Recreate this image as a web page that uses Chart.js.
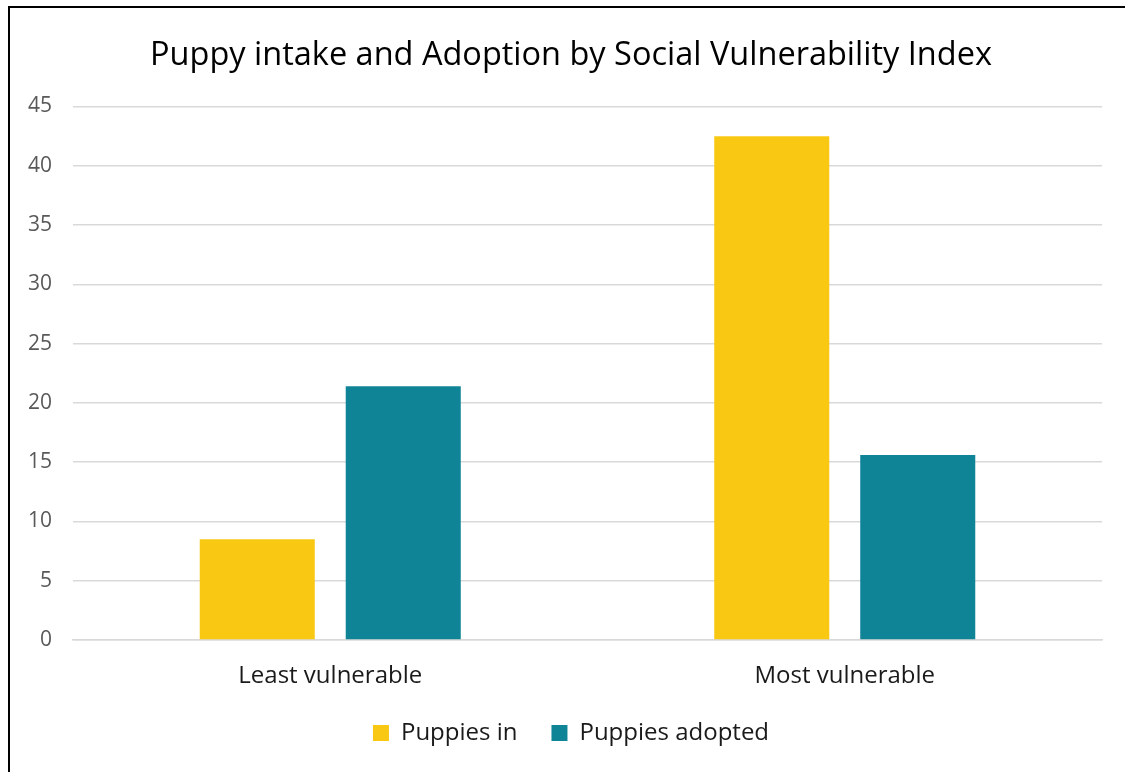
<!DOCTYPE html>
<html>
<head>
<meta charset="utf-8">
<script src="https://cdn.jsdelivr.net/npm/chart.js@4/dist/chart.umd.min.js"></script>
<style>
  html, body { margin: 0; padding: 0; background: #fff; }
  #wrap { position: relative; width: 1125px; height: 772px; }
</style>
</head>
<body>
<div id="wrap"><canvas id="c" width="1125" height="772"></canvas></div>
<script>
// Chart data
const categories = ['Least vulnerable', 'Most vulnerable'];
const puppiesIn = [8.5, 42.5];
const puppiesAdopted = [21.4, 15.6];
const yTickValues = [0, 5, 10, 15, 20, 25, 30, 35, 40, 45];

const FONT = "'Open Sans', 'Noto Sans', sans-serif";

// White page with a dark frame on the left and top edges
const framePlugin = {
  id: 'frame',
  beforeDraw(chart) {
    const ctx = chart.ctx;
    ctx.save();
    ctx.fillStyle = '#ffffff';
    ctx.fillRect(0, 0, chart.width, chart.height);
    ctx.strokeStyle = '#000000';
    ctx.lineWidth = 2;
    ctx.beginPath();
    ctx.moveTo(9, chart.height + 2);
    ctx.lineTo(9, 7);
    ctx.lineTo(chart.width + 2, 7);
    ctx.stroke();
    ctx.restore();
  }
};

new Chart(document.getElementById('c'), {
  type: 'bar',
  data: {
    labels: categories,
    datasets: [
      { label: 'Puppies in', data: puppiesIn, backgroundColor: '#F9C813', borderWidth: 0 },
      { label: 'Puppies adopted', data: puppiesAdopted, backgroundColor: '#108497', borderWidth: 0 }
    ]
  },
  options: {
    responsive: false,
    animation: false,
    devicePixelRatio: 1,
    categoryPercentage: 0.5675,
    barPercentage: 0.788,
    // the frame is slightly wider than the page, so the title centres a little left
    layout: { padding: { left: 0, right: -17, top: 0, bottom: 17 } },
    scales: {
      x: {
        afterFit(scale) { scale.height = 47; },
        grid: { display: false, drawTicks: false },
        border: { display: true, color: '#D9D9D9', width: 1.5 },
        ticks: { color: '#1a1a1a', font: { family: FONT, size: 24 }, padding: 22 }
      },
      y: {
        min: 0,
        max: 45,
        afterBuildTicks(scale) { scale.ticks = yTickValues.map(v => ({ value: v })); },
        afterFit(scale) { scale.width = 73; },
        grid: { color: '#D9D9D9', lineWidth: 1.5, drawTicks: false },
        border: { display: false },
        ticks: { color: '#595959', font: { family: FONT, size: 21 }, padding: 21 }
      },
      // empty right-hand margin of the plot
      yRight: {
        type: 'linear',
        position: 'right',
        afterFit(scale) { scale.width = 40; },
        grid: { display: false, drawTicks: false },
        border: { display: false },
        ticks: { display: false }
      }
    },
    plugins: {
      title: {
        display: true,
        text: 'Puppy intake and Adoption by Social Vulnerability Index',
        color: '#000000',
        font: { family: FONT, size: 32.5, weight: 'normal' },
        padding: { top: 36, bottom: 31.5 }
      },
      legend: {
        position: 'bottom',
        labels: {
          color: '#1a1a1a',
          font: { family: FONT, size: 24 },
          boxWidth: 16,
          boxHeight: 16,
          padding: 34
        }
      },
      tooltip: { enabled: false }
    }
  },
  plugins: [framePlugin]
});
</script>
</body>
</html>
